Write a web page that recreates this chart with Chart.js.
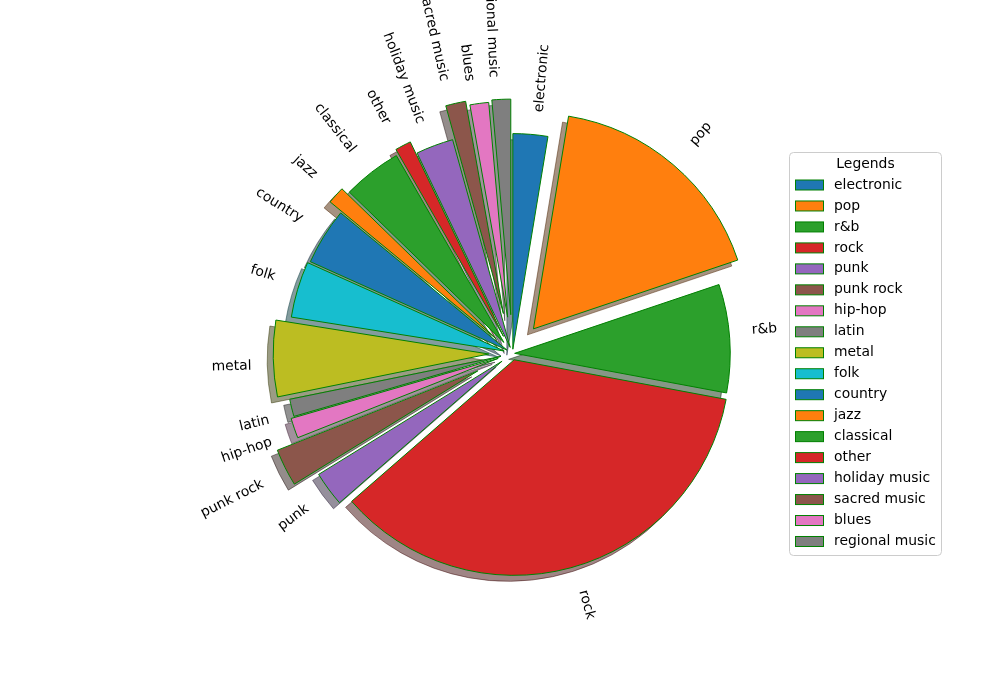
<!DOCTYPE html>
<html>
<head>
<meta charset="utf-8">
<script src="https://cdn.jsdelivr.net/npm/chart.js@4/dist/chart.umd.min.js"></script>
<style>
  html, body { margin: 0; padding: 0; background: #ffffff; }
  #wrap { width: 1000px; height: 700px; }
</style>
</head>
<body>
<div id="wrap"><canvas id="pieChart" width="1000" height="700"></canvas></div>
<script>
// Данные диаграммы
const genres = ['electronic', 'pop', 'r&b', 'rock', 'punk', 'punk rock', 'hip-hop', 'latin', 'metal',
  'folk', 'country', 'jazz', 'classical', 'other', 'holiday music', 'sacred music', 'blues', 'regional music'];
const shares = [2.6, 17.2, 8.1, 35.6, 2.6, 2.8, 1.5, 1.3, 5.7, 4.2, 4.25, 1.3, 4.4, 1.2, 2.8, 1.5, 1.4, 1.4];
const explode = [0.02, 0.15, 0.01, 0.03, 0.06, 0.18, 0.07, 0.055, 0.11, 0.04, 0.03, 0.1, 0.065, 0.09, 0.03, 0.19, 0.17, 0.18];
const legendTitle = 'Legends';

const tab10 = ['#1f77b4', '#ff7f0e', '#2ca02c', '#d62728', '#9467bd', '#8c564b', '#e377c2', '#7f7f7f', '#bcbd22', '#17becf'];
const colors = genres.map((g, i) => tab10[i % tab10.length]);
const edgeColor = '#008000';
const FONT_PX = 13.9;
const FONT = FONT_PX + "px 'DejaVu Sans', 'Liberation Sans', sans-serif";

//Смещение секторов (explode) от центра
const explodePlugin = {
  id: 'explode',
  afterDatasetsUpdate(chart) {
    const meta = chart.getDatasetMeta(0);
    meta.data.forEach((arc, i) => {
      const mid = (arc.startAngle + arc.endAngle) / 2;
      const d = explode[i] * arc.outerRadius;
      arc.x += Math.cos(mid) * d;
      arc.y += Math.sin(mid) * d;
    });
  }
};

//Тени под секторами
function shadowColor(hex) {
  const r = parseInt(hex.slice(1, 3), 16), g = parseInt(hex.slice(3, 5), 16), b = parseInt(hex.slice(5, 7), 16);
  return `rgba(${Math.round(r * 0.3)},${Math.round(g * 0.3)},${Math.round(b * 0.3)},0.5)`;
}

const shadowPlugin = {
  id: 'shadow',
  beforeDatasetsDraw(chart) {
    const ctx = chart.ctx;
    const meta = chart.getDatasetMeta(0);
    meta.data.forEach((arc, i) => {
      const c = shadowColor(colors[i]);
      ctx.save();
      ctx.translate(-6, 6);
      ctx.beginPath();
      ctx.moveTo(arc.x, arc.y);
      ctx.arc(arc.x, arc.y, arc.outerRadius, arc.startAngle, arc.endAngle);
      ctx.closePath();
      ctx.fillStyle = c;
      ctx.fill();
      ctx.strokeStyle = c;
      ctx.lineWidth = 1;
      ctx.stroke();
      ctx.restore();
    });
  }
};

//Повёрнутые подписи: выравнивание по рамке повёрнутого текста
const labelPlugin = {
  id: 'rotLabels',
  afterDatasetsDraw(chart) {
    const ctx = chart.ctx;
    const meta = chart.getDatasetMeta(0);
    const cx = (chart.chartArea.left + chart.chartArea.right) / 2;
    const cy = (chart.chartArea.top + chart.chartArea.bottom) / 2;
    const h = FONT_PX * 0.97;
    const d = FONT_PX * 0.21;
    ctx.save();
    ctx.font = FONT;
    ctx.fillStyle = '#000000';
    meta.data.forEach((arc, i) => {
      const label = chart.data.labels[i];
      const mid = (arc.startAngle + arc.endAngle) / 2;
      const px = arc.x + 1.1 * arc.outerRadius * Math.cos(mid);
      const py = arc.y + 1.1 * arc.outerRadius * Math.sin(mid);
      const right = px - cx > 0;
      const rot = right ? mid : mid + Math.PI;
      const w = ctx.measureText(label).width;
      const W = Math.abs(w * Math.cos(rot)) + Math.abs(h * Math.sin(rot));
      const H = Math.abs(w * Math.sin(rot)) + Math.abs(h * Math.cos(rot));
      const tx = right ? px + W / 2 : px - W / 2;
      const ty = py < cy ? py - H / 2 : py + H / 2;
      ctx.save();
      ctx.translate(tx, ty);
      ctx.rotate(rot);
      ctx.textAlign = 'center';
      ctx.textBaseline = 'alphabetic';
      ctx.fillText(label, 0, h / 2 - d);
      ctx.restore();
    });
    ctx.restore();
  }
};

//Легенда справа
const legendPlugin = {
  id: 'boxLegend',
  afterDraw(chart) {
    const ctx = chart.ctx;
    const x0 = 789.5, y0 = 152.5, w = 152, h = 403, r = 4;
    ctx.save();
    ctx.beginPath();
    ctx.roundRect(x0, y0, w, h, r);
    ctx.fillStyle = 'rgba(255,255,255,0.8)';
    ctx.fill();
    ctx.strokeStyle = '#cccccc';
    ctx.lineWidth = 1;
    ctx.stroke();

    ctx.font = FONT;
    ctx.fillStyle = '#000000';
    ctx.textBaseline = 'middle';
    ctx.textAlign = 'center';
    ctx.fillText(legendTitle, x0 + w / 2, 164);

    ctx.textAlign = 'left';
    chart.data.labels.forEach((label, i) => {
      const yc = 185 + i * 20.97;
      ctx.fillStyle = colors[i];
      ctx.fillRect(795.5, yc - 5, 28, 10);
      ctx.strokeStyle = edgeColor;
      ctx.strokeRect(795.5, yc - 5, 28, 10);
      ctx.fillStyle = '#000000';
      ctx.fillText(label, 834, yc);
    });
    ctx.restore();
  }
};

const chart = new Chart(document.getElementById('pieChart'), {
  type: 'pie',
  data: {
    labels: genres,
    datasets: [{
      data: shares,
      backgroundColor: colors,
      borderColor: edgeColor,
      borderWidth: 1,
      clip: false
    }]
  },
  options: {
    responsive: false,
    animation: false,
    events: [],
    radius: 215.6,
    layout: {
      padding: {left: 25, top: 7, right: 0, bottom: 0}
    },
    plugins: {
      legend: {display: false},
      tooltip: {enabled: false}
    }
  },
  plugins: [explodePlugin, shadowPlugin, labelPlugin, legendPlugin]
});
</script>
</body>
</html>
